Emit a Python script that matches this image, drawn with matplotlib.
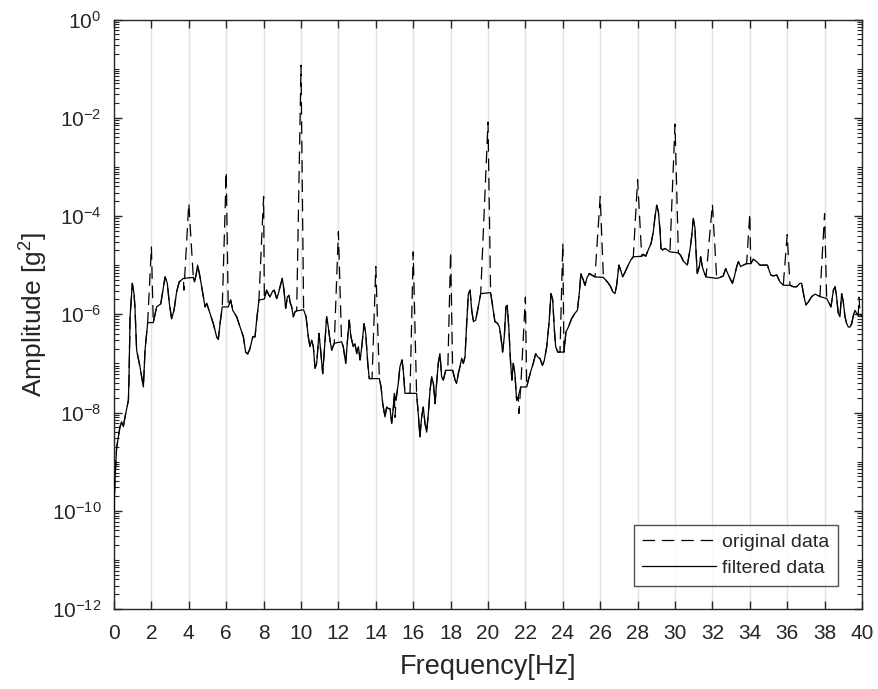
import numpy as np
import matplotlib
matplotlib.use("Agg")
import matplotlib.pyplot as plt
from matplotlib.ticker import FixedLocator, FixedFormatter, LogLocator, NullFormatter

# ---------------- data ----------------
# filtered spectrum: frequency [Hz] and log10 of amplitude [g^2]
filt_freq = [
    0.00, 0.05, 0.14, 0.32, 0.41, 0.50, 0.59, 0.77, 0.80, 0.86, 0.98, 1.07, 1.12, 1.21, 1.39, 1.57,
    1.66, 1.75, 1.80, 2.10, 2.28, 2.50, 2.73, 2.85, 2.96, 3.08, 3.21, 3.35, 3.49, 3.71, 4.24, 4.30,
    4.39, 4.47, 4.60, 4.78, 4.87, 4.96, 5.13, 5.31, 5.49, 5.58, 5.67, 5.79, 6.11, 6.24, 6.35, 6.56,
    6.74, 6.92, 7.04, 7.15, 7.27, 7.42, 7.54, 7.63, 7.75, 8.04, 8.16, 8.25, 8.34, 8.47, 8.57, 8.70,
    8.79, 8.88, 9.00, 9.09, 9.18, 9.27, 9.36, 9.41, 9.50, 9.59, 9.68, 9.77, 10.14, 10.27, 10.39, 10.48,
    10.57, 10.66, 10.75, 10.84, 10.96, 11.05, 11.16, 11.25, 11.37, 11.46, 11.55, 11.64, 11.78, 12.17, 12.26, 12.39,
    12.50, 12.58, 12.67, 12.80, 12.89, 12.98, 13.07, 13.16, 13.25, 13.37, 13.46, 13.57, 13.65, 14.19, 14.28, 14.37,
    14.49, 14.58, 14.67, 14.76, 14.85, 14.94, 14.99, 15.08, 15.20, 15.29, 15.40, 15.47, 15.56, 16.18, 16.27, 16.36,
    16.45, 16.54, 16.63, 16.72, 16.81, 16.90, 16.99, 17.08, 17.17, 17.25, 17.34, 17.43, 17.52, 17.61, 17.74, 18.11,
    18.24, 18.32, 18.41, 18.50, 18.59, 18.68, 18.77, 18.86, 18.95, 19.04, 19.13, 19.22, 19.34, 19.48, 19.61, 20.14,
    20.29, 20.37, 20.50, 20.61, 20.69, 20.78, 20.87, 20.96, 21.03, 21.12, 21.21, 21.28, 21.35, 21.44, 21.53, 21.62,
    21.75, 22.07, 22.16, 22.28, 22.42, 22.55, 22.66, 22.78, 22.91, 23.01, 23.14, 23.26, 23.37, 23.46, 23.55, 23.62,
    23.73, 24.06, 24.17, 24.30, 24.47, 24.65, 24.78, 24.88, 24.97, 25.06, 25.19, 25.28, 25.42, 25.54, 25.72, 26.17,
    26.31, 26.44, 26.56, 26.67, 26.79, 26.88, 27.00, 27.09, 27.20, 27.33, 27.50, 27.63, 27.77, 28.22, 28.31, 28.43,
    28.57, 28.72, 28.84, 28.93, 29.02, 29.11, 29.20, 29.25, 29.34, 29.47, 29.73, 30.18, 30.30, 30.45, 30.66, 30.80,
    30.89, 30.98, 31.07, 31.12, 31.19, 31.30, 31.37, 31.46, 31.55, 31.66, 32.23, 32.41, 32.58, 32.71, 32.82, 32.94,
    33.07, 33.17, 33.30, 33.39, 33.51, 33.65, 33.83, 34.05, 34.19, 34.37, 34.54, 34.94, 35.12, 35.26, 35.44, 35.61,
    35.79, 36.15, 36.33, 36.51, 36.68, 36.77, 36.90, 37.00, 37.13, 37.31, 37.49, 37.75, 38.11, 38.25, 38.34, 38.47,
    38.56, 38.64, 38.73, 38.82, 38.91, 39.00, 39.09, 39.18, 39.27, 39.36, 39.45, 39.54, 39.63, 39.71, 39.80, 39.90,
    40.00,
]
filt_log10 = [
    -10.02, -9.38, -8.72, -8.29, -8.19, -8.29, -8.09, -7.75, -7.34, -6.05, -5.37, -5.58, -5.85, -6.73, -7.07, -7.48,
    -6.73, -6.36, -6.17, -6.17, -5.85, -5.79, -5.24, -5.37, -5.78, -6.09, -5.92, -5.54, -5.34, -5.27, -5.25, -5.34,
    -5.20, -5.00, -5.24, -5.65, -5.85, -5.78, -5.98, -6.19, -6.46, -6.51, -6.19, -5.85, -5.85, -5.71, -5.92, -6.05,
    -6.26, -6.46, -6.77, -6.81, -6.70, -6.46, -6.46, -6.12, -5.71, -5.69, -5.51, -5.58, -5.65, -5.54, -5.51, -5.68,
    -5.58, -5.44, -5.27, -5.51, -5.88, -5.65, -5.61, -5.75, -5.85, -6.05, -5.95, -5.93, -5.91, -6.05, -6.46, -6.66,
    -6.53, -6.66, -7.10, -7.00, -6.39, -6.73, -7.21, -6.73, -6.05, -6.26, -6.53, -6.73, -6.59, -6.56, -6.66, -7.00,
    -6.46, -6.12, -6.46, -6.66, -6.60, -6.80, -6.66, -6.93, -6.66, -6.19, -6.39, -7.00, -7.31, -7.31, -7.48, -7.82,
    -8.09, -7.89, -7.92, -7.92, -8.22, -7.89, -7.61, -7.75, -7.41, -7.07, -6.93, -7.14, -7.61, -7.61, -8.02, -8.50,
    -8.09, -7.89, -8.22, -8.40, -8.02, -7.55, -7.27, -7.41, -7.82, -7.41, -7.00, -6.80, -7.27, -7.34, -7.14, -7.14,
    -7.34, -7.41, -7.21, -7.07, -6.90, -7.00, -6.87, -6.19, -5.58, -5.51, -5.92, -6.15, -6.12, -5.85, -5.58, -5.56,
    -5.95, -6.15, -6.18, -6.26, -6.46, -6.77, -6.46, -5.85, -5.82, -6.32, -7.00, -7.34, -7.00, -7.21, -7.75, -7.68,
    -7.48, -7.48, -7.34, -7.17, -7.00, -6.80, -6.87, -6.90, -7.04, -6.94, -6.66, -6.19, -5.58, -5.71, -6.32, -6.66,
    -6.77, -6.77, -6.36, -6.26, -6.09, -5.98, -5.92, -5.58, -5.17, -5.27, -5.41, -5.27, -5.17, -5.20, -5.24, -5.25,
    -5.31, -5.37, -5.44, -5.54, -5.58, -5.41, -5.00, -5.10, -5.24, -5.14, -5.00, -4.90, -4.83, -4.82, -4.78, -4.82,
    -4.69, -4.56, -4.32, -4.02, -3.78, -3.91, -4.29, -4.66, -4.69, -4.66, -4.73, -4.75, -4.80, -4.92, -5.00, -4.69,
    -4.42, -4.05, -4.25, -4.69, -5.17, -5.03, -4.83, -5.03, -5.14, -5.24, -5.27, -5.25, -5.22, -5.07, -5.17, -5.27,
    -5.37, -5.24, -5.03, -4.93, -5.03, -5.00, -4.97, -4.97, -4.88, -4.93, -5.00, -5.00, -5.20, -5.22, -5.20, -5.34,
    -5.41, -5.41, -5.44, -5.44, -5.37, -5.37, -5.64, -5.81, -5.75, -5.64, -5.59, -5.64, -5.68, -5.78, -5.85, -5.51,
    -5.44, -5.64, -5.98, -6.05, -5.58, -5.75, -6.05, -6.19, -6.26, -6.26, -6.19, -6.02, -5.92, -5.98, -6.02, -6.00,
    -6.05,
]

# harmonic peaks present only in the original data
peak_freq = [2, 4, 6, 8, 10, 12, 14, 16, 18, 20, 22, 24, 26, 28, 30, 32, 34, 36, 38]
peak_log10 = [-4.63, -3.74, -3.10, -3.60, -0.93, -4.32, -5.03, -4.73, -4.73, -2.09,
              -5.65, -4.55, -3.60, -3.26, -2.13, -3.76, -3.95, -4.38, -3.95]

# other points where the original data departs from the filtered curve
orig_extra_freq = [3.74, 13.80, 15.83, 15.03, 17.85, 21.65, 23.85, 39.84]
orig_extra_log10 = [-5.51, -7.31, -7.61, -8.10, -7.14, -8.02, -6.77, -5.65]

x_ticks = list(range(0, 41, 2))
y_ticks_exp = [0, -2, -4, -6, -8, -10, -12]

# ---------------- build series ----------------
f_filt = np.array(filt_freq)
a_filt = 10.0 ** np.array(filt_log10)

f_orig = np.concatenate([filt_freq, peak_freq, orig_extra_freq])
l_orig = np.concatenate([filt_log10, peak_log10, orig_extra_log10])
order = np.argsort(f_orig, kind="stable")
f_orig = f_orig[order]
a_orig = 10.0 ** l_orig[order]

# ---------------- figure ----------------
plt.rcParams["font.family"] = ["Liberation Sans", "DejaVu Sans"]
plt.rcParams["mathtext.fontset"] = "custom"
plt.rcParams["mathtext.rm"] = "Liberation Sans"
plt.rcParams["mathtext.it"] = "Liberation Sans:italic"

fig = plt.figure(figsize=(8.79, 6.89), dpi=100)
ax = fig.add_axes([114 / 879, 1 - 609 / 689, (862 - 114) / 879, (609 - 19.5) / 689])

axis_col = "#262626"
ax.set_yscale("log")
ax.set_xlim(0, 40)
ax.set_ylim(1e-12, 1e0)

ax.plot(f_orig, a_orig, color="black", lw=0.9, linestyle=(0, (10, 5.5)), label="original data", zorder=3)
ax.plot(f_filt, a_filt, color="black", lw=0.9, linestyle="-", label="filtered data", zorder=4)

ax.xaxis.set_major_locator(FixedLocator(x_ticks))
ax.xaxis.set_major_formatter(FixedFormatter([str(t) for t in x_ticks]))
ax.yaxis.set_major_locator(FixedLocator([10.0 ** e for e in y_ticks_exp]))
ax.yaxis.set_major_formatter(FixedFormatter([r"$\mathregular{10^{%d}}$" % e for e in y_ticks_exp]))
ax.yaxis.set_minor_locator(LogLocator(base=10, subs=np.arange(1, 10), numticks=100))
ax.yaxis.set_minor_formatter(NullFormatter())

ax.grid(True, axis="x", which="major", color="#e3e3e3", lw=1.0, zorder=0)
ax.set_axisbelow(True)

ax.tick_params(axis="both", which="major", direction="in", length=6, width=1.0,
               top=True, right=True, colors=axis_col, labelsize=15)
ax.tick_params(axis="x", which="major", pad=11)
ax.tick_params(axis="y", which="major", pad=9)
ax.tick_params(axis="y", which="minor", direction="in", length=3.5, width=0.8,
               left=True, right=True, colors=axis_col)
for s in ax.spines.values():
    s.set_color(axis_col)
    s.set_linewidth(1.0)

ax.set_xlabel("Frequency[Hz]", fontsize=19.5, color=axis_col, labelpad=8)
ax.set_ylabel(r"Amplitude [g$\mathregular{^2}$]", fontsize=19, color=axis_col, labelpad=1)

leg = ax.legend(loc="lower right", bbox_to_anchor=(0.968, 0.039), borderaxespad=0,
                fontsize=14, frameon=True, fancybox=False, edgecolor=axis_col,
                handlelength=3.8, handletextpad=0.3, borderpad=0.45, labelspacing=0.45)
leg.get_frame().set_linewidth(1.0)
for t in leg.get_texts():
    t.set_color(axis_col)

fig.savefig("out.png", dpi=100, facecolor="white")
